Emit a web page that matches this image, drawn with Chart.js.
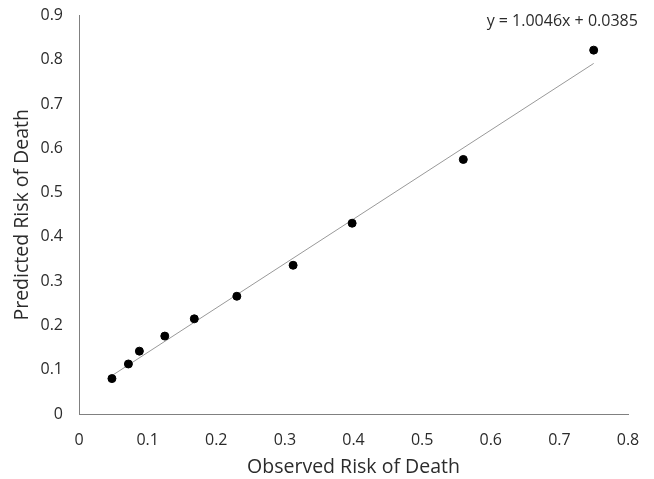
<!DOCTYPE html>
<html>
<head>
<meta charset="utf-8">
<script src="https://cdn.jsdelivr.net/npm/chart.js@4/dist/chart.umd.min.js"></script>
<style>
  html, body { margin: 0; padding: 0; background: #fff; }
  #wrap { width: 654px; height: 479px; }
</style>
</head>
<body>
<div id="wrap"><canvas id="c" width="654" height="479"></canvas></div>
<script>
// ---- data ----
const observed  = [0.048, 0.072, 0.088, 0.125, 0.168, 0.230, 0.312, 0.398, 0.560, 0.750];
const predicted = [0.080, 0.113, 0.142, 0.176, 0.215, 0.266, 0.336, 0.431, 0.575, 0.822];
const trendSlope = 1.0046;
const trendIntercept = 0.0385;
const equationText = 'y = 1.0046x + 0.0385';
const xTitle = 'Observed Risk of Death';
const yTitle = 'Predicted Risk of Death';

const points = observed.map((x, i) => ({ x: x, y: predicted[i] }));
const xMin = Math.min(...observed), xMax = Math.max(...observed);
const trend = [xMin, xMax].map(x => ({ x: x, y: trendSlope * x + trendIntercept }));

const FONT = '"Open Sans", "Liberation Sans", sans-serif';
const TEXT = '#2b2b2b';

const equationPlugin = {
  id: 'equation',
  afterDraw(chart) {
    const ctx = chart.ctx;
    const xs = chart.scales.x, ys = chart.scales.y;
    ctx.save();
    ctx.font = '16px ' + FONT;
    ctx.fillStyle = TEXT;
    ctx.textAlign = 'left';
    ctx.textBaseline = 'middle';
    ctx.fillText(equationText, xs.getPixelForValue(0.594), ys.getPixelForValue(0.886));
    ctx.restore();
  }
};

new Chart(document.getElementById('c'), {
  type: 'scatter',
  data: {
    datasets: [
      {
        type: 'line',
        data: trend,
        borderColor: '#999999',
        borderWidth: 1,
        pointRadius: 0,
        fill: false,
        order: 2
      },
      {
        data: points,
        backgroundColor: '#000',
        borderColor: '#000',
        pointRadius: 4,
        pointHoverRadius: 4,
        order: 1
      }
    ]
  },
  options: {
    responsive: false,
    animation: false,
    devicePixelRatio: 1,
    layout: { autoPadding: false, padding: { top: 0, right: 26, left: 0, bottom: 0 } },
    plugins: { legend: { display: false }, tooltip: { enabled: false } },
    scales: {
      x: {
        type: 'linear',
        min: 0, max: 0.8,
        grid: { display: false, drawTicks: true, tickLength: 12 },
        border: { display: true, color: '#808080', width: 1 },
        ticks: {
          stepSize: 0.1,
          padding: 5,
          color: TEXT,
          font: { family: FONT, size: 16 },
          callback: v => +v.toFixed(1)
        },
        title: {
          display: true, text: xTitle, color: TEXT,
          font: { family: FONT, size: 19.5 },
          padding: { top: 0, bottom: 0 }
        },
        afterFit(scale) { scale.height = 65; }
      },
      y: {
        type: 'linear',
        min: 0, max: 0.9,
        grid: { display: false, drawTicks: true, tickLength: 10 },
        border: { display: true, color: '#808080', width: 1 },
        ticks: {
          stepSize: 0.1,
          padding: 6,
          color: TEXT,
          font: { family: FONT, size: 16 },
          callback: v => +v.toFixed(1)
        },
        title: {
          display: true, text: yTitle, color: TEXT,
          font: { family: FONT, size: 19.5 },
          padding: { top: 11, bottom: 0 }
        },
        afterFit(scale) { scale.width = 79; }
      }
    }
  },
  plugins: [equationPlugin]
});
</script>
</body>
</html>
